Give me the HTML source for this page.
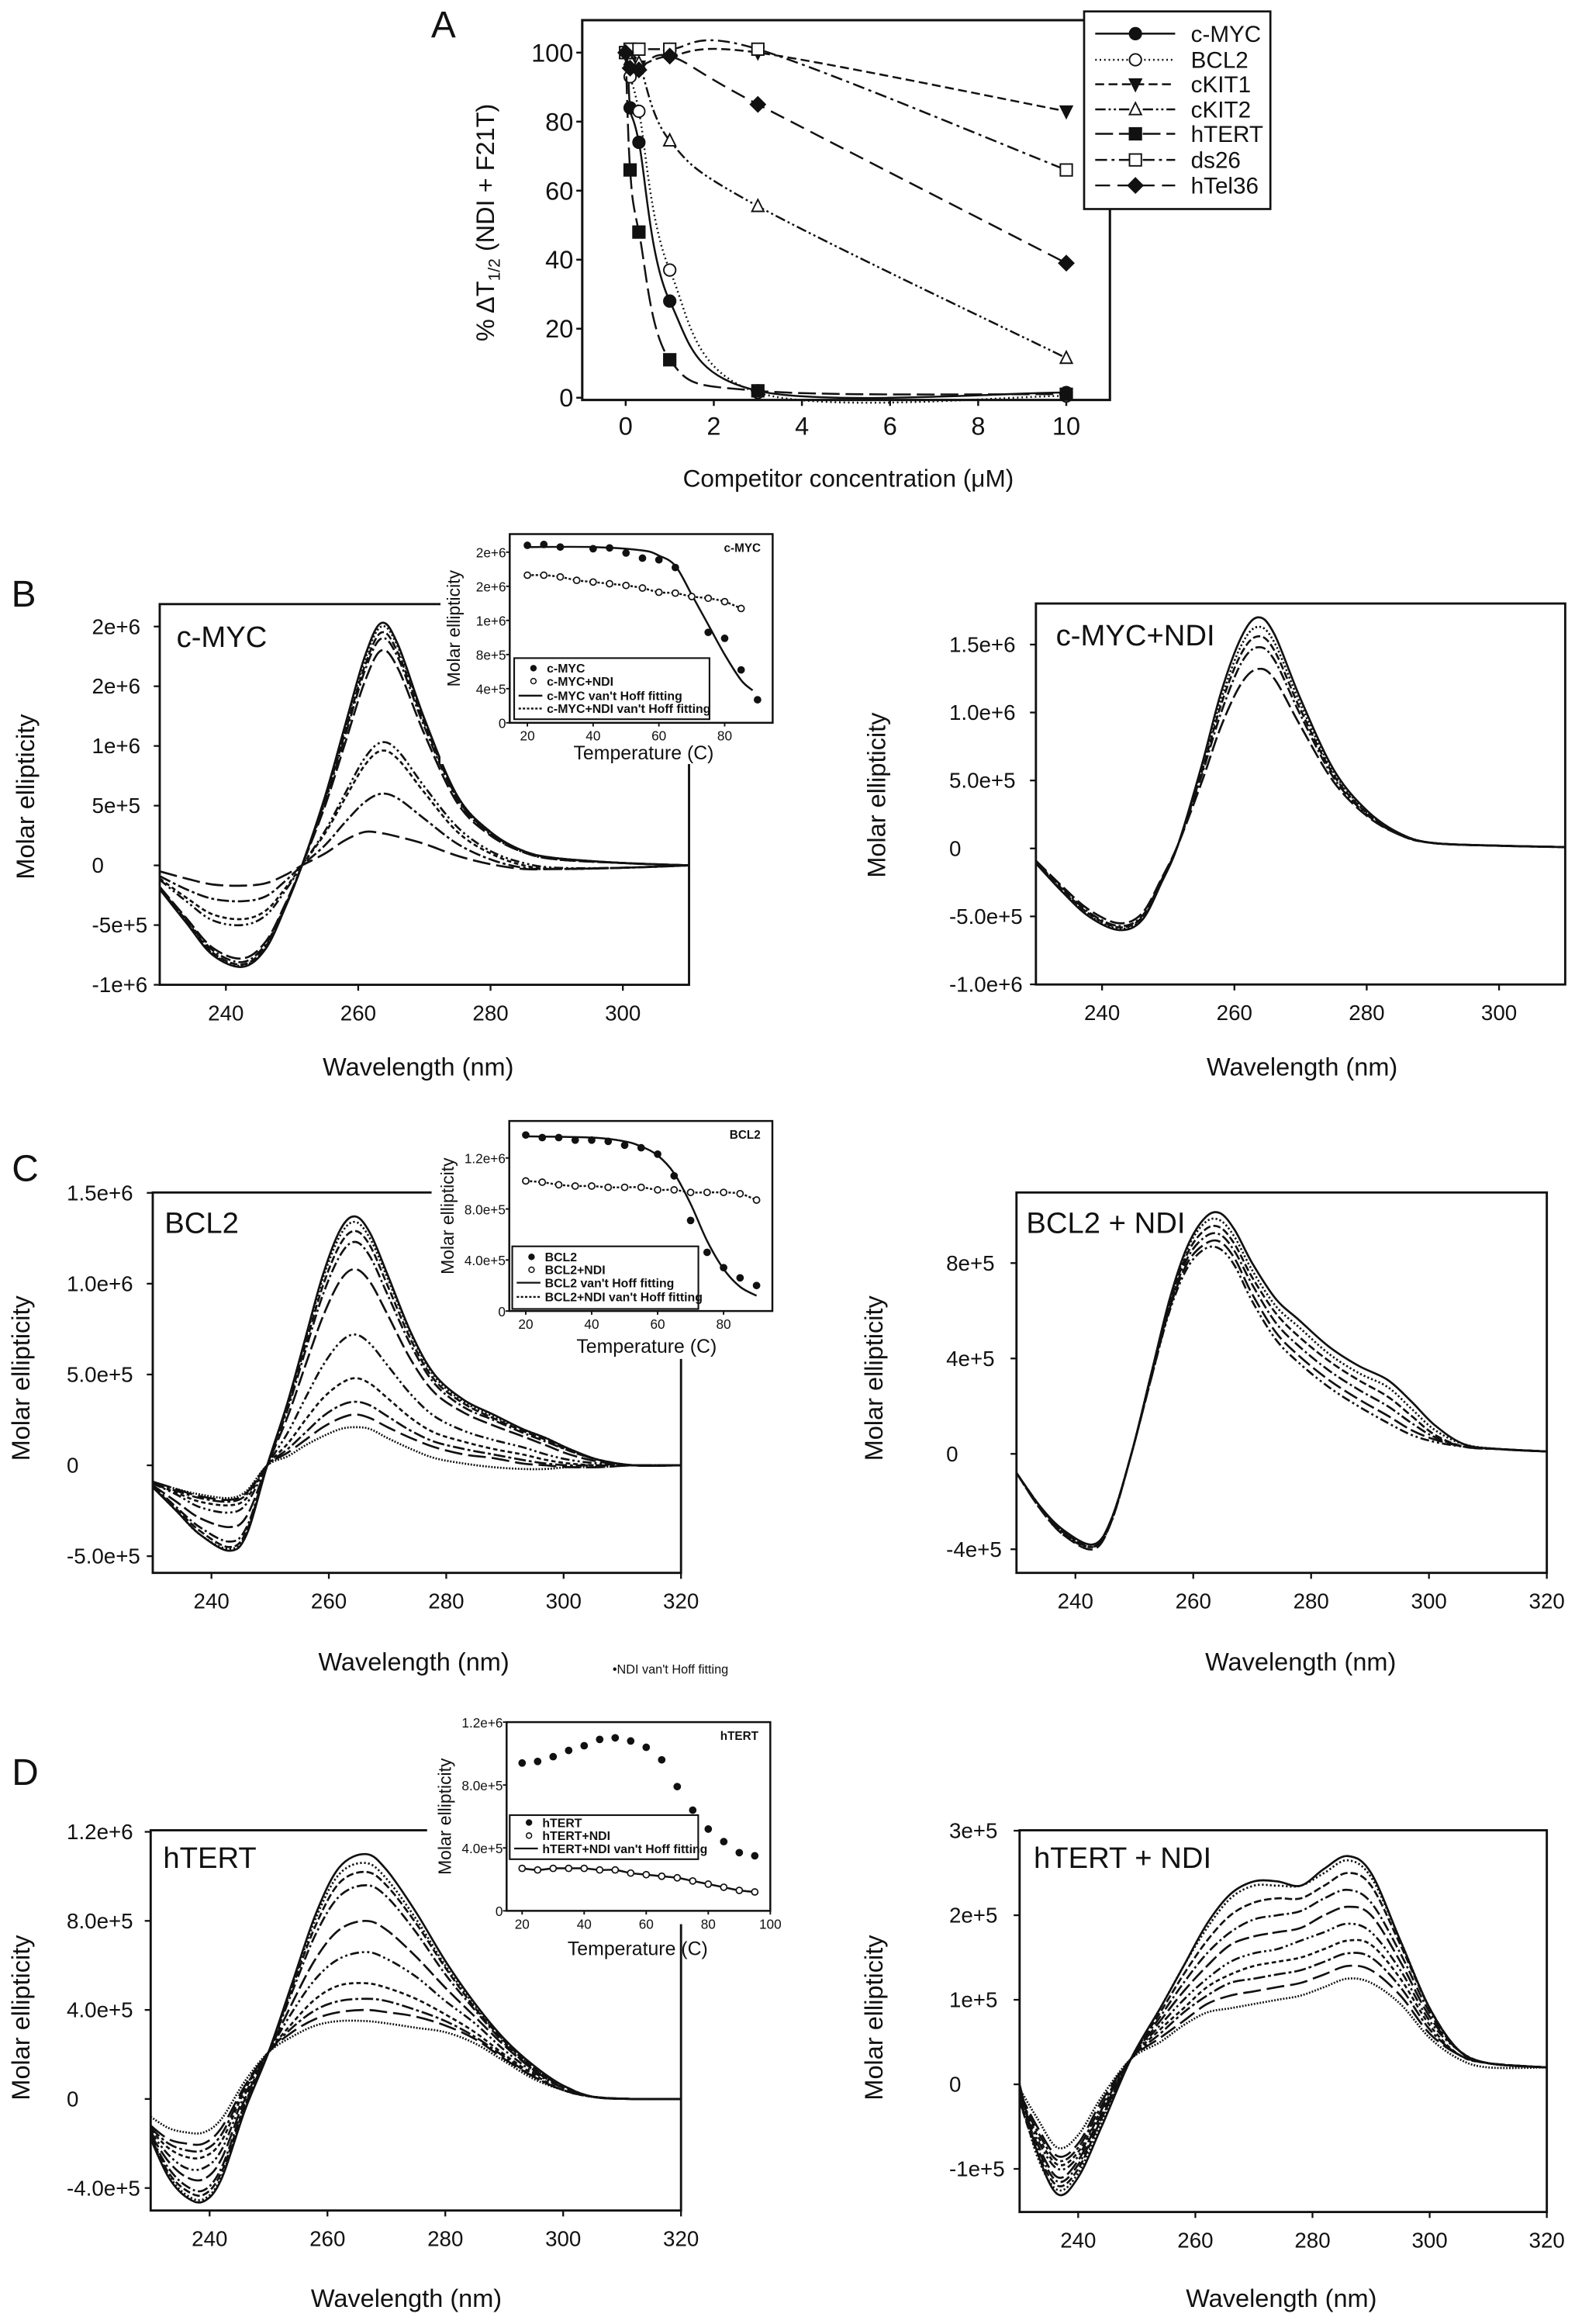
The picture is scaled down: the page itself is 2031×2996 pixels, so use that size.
<!DOCTYPE html>
<html><head><meta charset="utf-8"><title>CD melting figure</title>
<style>
html,body{margin:0;padding:0;background:#fff;}
svg{display:block;}
text{font-family:"Liberation Sans",Arial,sans-serif;fill:#111;}
</style></head>
<body>
<svg id="fig" xmlns="http://www.w3.org/2000/svg" width="2031" height="2996" viewBox="0 0 1062 1566.5" preserveAspectRatio="none">
<rect x="0" y="0" width="1062" height="1566.5" fill="#fff"/>
</svg>
<script>
// ===== Panel A data =====
const aSeriesNames = ["c-MYC","BCL2","cKIT1","cKIT2","hTERT","ds26","hTel36"];
const aX_cmyc = [0.05,0.1,0.3,1,3,10];   const aY_cmyc = [100,84,74,28,2,1.5];
const aX_bcl2 = [0,0.1,0.3,1,3,10];      const aY_bcl2 = [100,93,83,37,1.5,0.5];
const aX_ckit1 = [0,0.1,0.3,1,3,10];     const aY_ckit1 = [100,97,96,99,100,83];
const aX_ckit2 = [0,0.1,0.3,1,3,10];     const aY_ckit2 = [100,98,97,74.5,55.5,11.5];
const aX_htert = [0,0.1,0.3,1,3,10];     const aY_htert = [100,66,48,11,2,1];
const aX_ds26 = [0,0.1,0.3,1,3,10];      const aY_ds26 = [100,101,101,101,101,66];
const aX_htel = [0,0.1,0.3,1,3,10];      const aY_htel = [100,95.5,95,99,85,39];
const aXTicks = [0,2,4,6,8,10];
const aYTicks = [0,20,40,60,80,100];

// ===== CD spectra data (units: 1e5, D-right 1e4) =====
const wlB = [230,234,238,242.5,246,249,251.5,255,258,261,263.5,266,270,275,280,285,290,300,310];
const cdB1 = [
 [-2,-4.8,-7.5,-8.5,-7,-3.5,0,5.8,11.7,17.5,20.3,18.5,12.3,5.8,2.8,1.2,0.6,0.2,0],
 [-1.9,-4.7,-7.4,-8.4,-6.9,-3.4,0,5.6,11.4,17.2,20.0,18.3,12.2,5.8,2.8,1.2,0.6,0.2,0],
 [-1.9,-4.6,-7.3,-8.3,-6.8,-3.4,0,5.5,11.1,16.7,19.5,17.8,11.9,5.6,2.7,1.2,0.6,0.2,0],
 [-1.8,-4.5,-7.1,-8.1,-6.6,-3.3,0,5.3,10.8,16.3,19.0,17.4,11.6,5.5,2.6,1.1,0.5,0.2,0],
 [-1.8,-4.4,-6.9,-7.8,-6.4,-3.2,0,5.0,10.2,15.4,18.0,16.5,11.0,5.2,2.5,1.1,0.5,0.2,0],
 [-1.2,-3,-4.6,-5,-4.2,-2.1,0,2.9,6,9,10.3,9.6,6.6,3.2,1.2,0.2,-0.2,-0.2,0],
 [-1.1,-2.7,-4.1,-4.5,-3.8,-1.9,0,2.7,5.6,8.4,9.6,8.9,6.1,2.8,1,0,-0.3,-0.2,0],
 [-0.9,-2,-2.8,-3,-2.6,-1.3,0,1.7,3.6,5.3,6.0,5.6,3.9,1.8,0.5,-0.2,-0.3,-0.2,0],
 [-0.5,-1.1,-1.6,-1.7,-1.5,-0.8,0,1,2.1,2.8,2.7,2.4,1.8,0.8,0.1,-0.3,-0.3,-0.2,0]
];
const cdB2 = [
 [-1.1,-3.2,-5,-6,-5.3,-2.5,0.3,6,11.5,15.5,17,15.8,11,5.8,2.8,1.1,0.4,0.2,0.1],
 [-1.1,-3.1,-4.9,-5.9,-5.2,-2.4,0.3,5.8,11.0,14.9,16.3,15.2,10.6,5.6,2.7,1.1,0.4,0.2,0.1],
 [-1.0,-3.0,-4.8,-5.8,-5.1,-2.4,0.3,5.5,10.6,14.3,15.6,14.6,10.2,5.4,2.6,1.0,0.4,0.2,0.1],
 [-1.0,-2.9,-4.7,-5.7,-5.0,-2.3,0.3,5.3,10.0,13.6,14.8,13.9,9.8,5.2,2.5,1.0,0.4,0.2,0.1],
 [-0.9,-2.8,-4.5,-5.5,-4.8,-2.2,0.3,4.8,9.0,12.1,13.2,12.5,9.0,4.9,2.4,1.0,0.4,0.2,0.1]
];
const wlC = [230,234,238,243,246,249.5,253,256,259,262,264.5,267,270,274,278,283,288,293,297,301,306,312,320];
const cdC1 = [
 [-1.2,-2.5,-3.8,-4.7,-3.8,0,3.5,7,10.5,13,13.7,12.8,10.5,7.3,5,3.6,2.8,2,1.5,0.9,0.3,0,0],
 [-1.2,-2.5,-3.8,-4.6,-3.7,0,3.4,6.9,10.3,12.7,13.4,12.5,10.3,7.2,4.9,3.5,2.7,2,1.5,0.9,0.3,0,0],
 [-1.2,-2.4,-3.6,-4.5,-3.6,0,3.3,6.6,9.9,12.2,12.9,12.1,9.9,6.9,4.7,3.4,2.6,1.9,1.4,0.8,0.3,0,0],
 [-1.1,-2.3,-3.4,-4.2,-3.4,0,3.1,6.3,9.4,11.6,12.3,11.5,9.4,6.6,4.5,3.2,2.5,1.8,1.3,0.8,0.3,0,0],
 [-1.1,-2.0,-2.9,-3.4,-2.8,0,2.7,5.5,8.2,10.2,10.8,10.1,8.3,5.8,4.0,2.9,2.2,1.6,1.1,0.6,0.2,0,0],
 [-1,-1.6,-2.3,-2.6,-2.1,0,1.8,3.7,5.5,6.8,7.2,6.7,5.5,3.9,2.7,1.9,1.4,1,0.6,0.3,0.1,0,0],
 [-1,-1.5,-2,-2.2,-1.8,0,1.2,2.5,3.7,4.5,4.8,4.5,3.7,2.6,1.8,1.3,0.9,0.6,0.3,0.1,0,0,0],
 [-1,-1.4,-1.8,-2,-1.6,0,0.9,1.8,2.7,3.3,3.5,3.3,2.7,1.9,1.3,0.9,0.6,0.3,0.1,0,0,0,0],
 [-0.9,-1.3,-1.7,-1.9,-1.5,0,0.7,1.4,2.1,2.6,2.8,2.6,2.1,1.5,1,0.6,0.4,0.1,0,-0.1,-0.1,0,0],
 [-0.9,-1.3,-1.6,-1.8,-1.4,0,0.5,1.1,1.6,2,2.1,2,1.5,0.9,0.4,0.1,-0.1,-0.2,-0.2,-0.1,-0.1,0,0]
];
const cdC2 = [
 [-0.8,-2.2,-3.2,-3.8,-2.8,0,3.5,6.5,8.7,9.9,10.1,9.4,8,6.5,5.6,4.5,3.7,3.1,2.2,1.2,0.4,0.2,0.1],
 [-0.8,-2.2,-3.3,-3.9,-2.8,0,3.5,6.4,8.6,9.7,9.8,9.1,7.7,6.2,5.3,4.2,3.4,2.8,1.9,1.0,0.4,0.2,0.1],
 [-0.8,-2.2,-3.3,-3.8,-2.8,0,3.4,6.3,8.4,9.4,9.5,8.8,7.4,5.9,4.9,3.9,3.1,2.4,1.6,0.8,0.3,0.2,0.1],
 [-0.8,-2.2,-3.3,-3.9,-2.9,0,3.4,6.2,8.2,9.1,9.2,8.5,7.1,5.5,4.5,3.5,2.7,2.0,1.3,0.7,0.3,0.2,0.1],
 [-0.8,-2.3,-3.4,-4.0,-2.9,0,3.3,6.1,8.0,8.8,8.9,8.2,6.7,5.1,4.1,3.1,2.3,1.6,1.0,0.6,0.3,0.2,0.1],
 [-0.8,-2.3,-3.4,-3.9,-2.9,0,3.3,6.0,7.8,8.6,8.6,7.9,6.4,4.8,3.8,2.8,2.0,1.3,0.8,0.5,0.3,0.2,0.1]
];
const wlD = [230,233,236,239,242,246,250,254,258,262,266.5,270,275,280,285,290,295,300,305,312,320];
const cdD1 = [
 [-1.8,-3.5,-4.4,-4.6,-3.6,-0.5,2.1,5.2,8.3,10.4,11,10.3,8.4,6.2,4.3,2.7,1.5,0.6,0.1,0,0],
 [-1.8,-3.4,-4.3,-4.5,-3.5,-0.4,2.1,5.1,8.1,10.1,10.6,9.9,8.1,6.0,4.2,2.6,1.4,0.6,0.1,0,0],
 [-1.7,-3.3,-4.1,-4.3,-3.3,-0.3,2.1,5.0,7.8,9.7,10.2,9.6,7.9,5.9,4.1,2.6,1.4,0.6,0.1,0,0],
 [-1.7,-3.1,-3.9,-4.1,-3.1,-0.2,2.1,4.8,7.4,9.1,9.6,9.1,7.5,5.6,4.0,2.5,1.3,0.6,0.1,0,0],
 [-1.6,-2.8,-3.5,-3.6,-2.7,0,2.1,4.3,6.3,7.6,8.0,7.6,6.4,5.0,3.7,2.4,1.3,0.5,0.1,0,0],
 [-1.5,-2.5,-3.1,-3.1,-2.3,0.2,2.1,3.9,5.4,6.3,6.6,6.3,5.5,4.4,3.4,2.2,1.2,0.5,0.1,0,0],
 [-1.4,-2.2,-2.6,-2.6,-1.9,0.4,2.1,3.4,4.5,5.1,5.2,5.0,4.5,3.8,3.0,2.0,1.1,0.4,0.1,0,0],
 [-1.3,-2.0,-2.3,-2.3,-1.6,0.5,2.1,3.2,4.0,4.4,4.5,4.4,4.0,3.5,2.8,1.9,1.0,0.4,0.1,0,0],
 [-1.2,-1.8,-2.0,-2.0,-1.3,0.6,2.1,3.0,3.6,3.9,4.0,3.9,3.7,3.3,2.7,1.8,1.0,0.4,0.1,0,0],
 [-0.8,-1.3,-1.5,-1.5,-0.9,0.8,2.1,2.8,3.3,3.5,3.5,3.4,3.2,3.0,2.5,1.7,0.9,0.4,0.1,0,0]
];
const wlD2 = [230,233,236.5,240,244,249,254,258,262,266,270,274,278,282,286,290,295,300,305,310,320];
const cdD2 = [
 [0,-8,-13,-11,-5,3,9,14,19,22.5,24,24,23.5,25.5,27,25,17,9,4,2.5,2],
 [-1,-8.5,-12.5,-10.5,-4.5,3,9,14,18.5,22,23.5,23.5,23.5,25,26.5,24.5,17,9,4,2.5,2],
 [-2,-8,-12,-10,-4,3,8.5,13,17,20,21.5,22,22,23.5,25,23.5,16.5,9,4,2.5,2],
 [-2,-7.5,-11.5,-9.5,-4,3,8,12,15.5,18,19.5,20,20.5,22,23,21.5,15.5,8.5,4,2.5,2],
 [-2,-7,-11,-9,-3.5,3,7.5,11,14,16.5,17.5,18,18.5,20,21,20,14.5,8,4,2.5,2],
 [-2,-6.5,-10,-8.5,-3,3,7,10,12.5,14.5,15.5,16,17,18,19,18,13.5,7.5,4,2.5,2],
 [-1.5,-6,-9.5,-8,-3,3,6.5,9,11.5,13,14,14.5,15,16,17,16.5,12.5,7,3.5,2.5,2],
 [-1.5,-5.5,-9,-7.5,-2.5,3,6,8.5,10.5,12,12.5,13,13.5,14.5,15.5,15,11.5,6.5,3.5,2.5,2],
 [-1,-5,-8.5,-7,-2,3,5.5,7.5,9.5,10.5,11,11.5,12,13,14,13.5,10.5,6,3.5,2.5,2],
 [-0.5,-4,-7.5,-6,-1.5,3,5,7,8.5,9,9.5,10,10.5,11.5,12.5,12,9.5,5.5,3,2,2]
];

// ===== Inset melting data (units 1e5) =====
const tB = [20,25,30,40,45,50,55,60,65,75,80,85,90];
const mB_free = [20.8,20.9,20.6,20.4,20.5,19.9,19.3,19.1,18.2,10.6,9.9,6.2,2.7];
const tB_ndi = [20,25,30,35,40,45,50,55,60,65,70,75,80,85];
const mB_ndi = [17.3,17.3,17.1,16.7,16.5,16.3,16.1,15.8,15.3,15.2,14.8,14.6,14.2,13.4];
const tB_fit = [20,40,55,60,65,70,75,80,85,88.5];
const fB_fit = [20.6,20.6,20.2,19.6,18.4,15,11.5,8,5,3.8];
const tC = [20,25,30,35,40,45,50,55,60,65,70,75,80,85,90];
const mC_free = [13.8,13.6,13.6,13.4,13.4,13.3,13.0,12.8,12.3,10.6,7.1,4.6,3.4,2.6,2.0];
const mC_ndi = [10.2,10.1,9.9,9.8,9.8,9.7,9.7,9.7,9.5,9.5,9.3,9.3,9.3,9.2,8.7];
const tC_fit = [20,40,50,55,60,65,70,75,80,85,90];
const fC_fit = [13.7,13.6,13.3,12.9,12.2,10.8,8.4,5.5,3.3,1.9,1.2];
const tD = [20,25,30,35,40,45,50,55,60,65,70,75,80,85,90,95];
const mD_free = [9.4,9.5,9.8,10.2,10.5,10.9,11,10.8,10.4,9.6,7.9,6.4,5.2,4.4,3.7,3.5];
const mD_ndi = [2.7,2.6,2.7,2.7,2.7,2.6,2.6,2.4,2.3,2.2,2.1,1.9,1.7,1.5,1.3,1.2];

const NS = 'http://www.w3.org/2000/svg';
const svg = document.getElementById('fig');
function mk(tag, attrs, parent){ const e = document.createElementNS(NS, tag); for (const k in attrs) e.setAttribute(k, attrs[k]); (parent||svg).appendChild(e); return e; }
function txt(s, x, y, size, anchor, parent, extra){ const e = mk('text', Object.assign({x:x, y:y, 'font-size':size, 'text-anchor':anchor||'start'}, extra||{}), parent); e.textContent = s; return e; }
function smooth(pts){
  if (pts.length < 2) return '';
  let d = 'M' + pts[0][0].toFixed(2) + ',' + pts[0][1].toFixed(2);
  for (let i = 0; i < pts.length - 1; i++){
    const p0 = pts[Math.max(0,i-1)], p1 = pts[i], p2 = pts[i+1], p3 = pts[Math.min(pts.length-1,i+2)];
    const c1x = p1[0] + (p2[0]-p0[0])/6, c1y = p1[1] + (p2[1]-p0[1])/6;
    const c2x = p2[0] - (p3[0]-p1[0])/6, c2y = p2[1] - (p3[1]-p1[1])/6;
    d += ' C' + c1x.toFixed(2)+','+c1y.toFixed(2)+' '+c2x.toFixed(2)+','+c2y.toFixed(2)+' '+p2[0].toFixed(2)+','+p2[1].toFixed(2);
  }
  return d;
}
function axisFns(P){
  return {
    sx: v => P.x0 + (v - P.xmin) / (P.xmax - P.xmin) * (P.x1 - P.x0),
    sy: v => P.y1 - (v - P.ymin) / (P.ymax - P.ymin) * (P.y1 - P.y0)
  };
}

// panel letters
[['A',299,25],['B',16,409],['C',17,796],['D',17,1203]].forEach(l => {
  const t = txt(l[0], l[1], l[2], 25, 'middle');
  
  
});

// ===== Panel A =====
(function(){
  const P = {x0:392.6, x1:748.4, y0:13.6, y1:269.6, xmin:-0.986, xmax:10.99, ymin:-0.65, ymax:109.4};
  const {sx, sy} = axisFns(P);
  const g = mk('g', {});
  
  
  const fr = mk('rect', {x:P.x0, y:P.y0, width:P.x1-P.x0, height:P.y1-P.y0, fill:'none', stroke:'#111', 'stroke-width':1.6}, g);
  
  
  aYTicks.forEach(v => {
    mk('line', {x1:P.x0-4, x2:P.x0, y1:sy(v), y2:sy(v), stroke:'#111', 'stroke-width':1.3}, g);
    const t = txt(String(v), P.x0-6, sy(v)+6, 17, 'end', g);
    
    
  });
  aXTicks.forEach(v => {
    mk('line', {x1:sx(v), x2:sx(v), y1:P.y1, y2:P.y1+4, stroke:'#111', 'stroke-width':1.3}, g);
    const t = txt(String(v), sx(v), 293, 17, 'middle', g);
    
    
  });
  const xl = txt('Competitor concentration (μM)', 572, 328, 16.5, 'middle', g);
  
  
  const yl = mk('text', {x:0, y:0, 'font-size':17, 'text-anchor':'middle', transform:'translate(333,150) rotate(-90)'}, g);
  yl.innerHTML = '% ΔT<tspan font-size="11" dy="4">1/2</tspan><tspan dy="-4"> (NDI + F21T)</tspan>';
  
  

  const series = [
    {xs:aX_cmyc, ys:aY_cmyc, dash:'', m:'circle', fill:true},
    {xs:aX_bcl2, ys:aY_bcl2, dash:'1,2', m:'circle', fill:false},
    {xs:aX_ckit1, ys:aY_ckit1, dash:'6,3', m:'tridown', fill:true},
    {xs:aX_ckit2, ys:aY_ckit2, dash:'7,2,1.5,2,1.5,2', m:'triup', fill:false},
    {xs:aX_htert, ys:aY_htert, dash:'12,4', m:'square', fill:true},
    {xs:aX_ds26, ys:aY_ds26, dash:'8,3,2,3', m:'square', fill:false},
    {xs:aX_htel, ys:aY_htel, dash:'10,5', m:'diamond', fill:true}
  ];
  function marker(type, x, y, fill, parent, r){
    r = r || 4;
    let e;
    const st = {fill: fill ? '#111' : '#fff', stroke:'#111', 'stroke-width':1};
    if (type === 'circle') e = mk('circle', Object.assign({cx:x, cy:y, r:r}, st), parent);
    else if (type === 'square') e = mk('rect', Object.assign({x:x-r, y:y-r, width:2*r, height:2*r}, st), parent);
    else if (type === 'triup') e = mk('polygon', Object.assign({points:`${x},${y-r-0.5} ${x+r},${y+r-0.5} ${x-r},${y+r-0.5}`}, st), parent);
    else if (type === 'tridown') e = mk('polygon', Object.assign({points:`${x},${y+r+0.5} ${x+r},${y-r+0.5} ${x-r},${y-r+0.5}`}, st), parent);
    else e = mk('polygon', Object.assign({points:`${x},${y-r-1} ${x+r+1},${y} ${x},${y+r+1} ${x-r-1},${y}`}, st), parent);
    return e;
  }
  series.forEach((s, i) => {
    const pts = s.xs.map((x, k) => [sx(x), sy(s.ys[k])]);
    const p = mk('path', {d:smooth(pts), fill:'none', stroke:'#111', 'stroke-width':1.3, 'stroke-dasharray':s.dash}, g);
    
    
    pts.forEach(pt => {
      const m = marker(s.m, pt[0], pt[1], s.fill, g);
      
      
    });
  });
  const lg = mk('g', {});
  
  
  mk('rect', {x:731, y:7.7, width:125.6, height:133.2, fill:'#fff', stroke:'#111', 'stroke-width':1.4}, lg);
  const ly = [22.7,40.3,56.8,73.7,90.2,107.8,125];
  series.forEach((s, i) => {
    mk('line', {x1:738.5, x2:792.4, y1:ly[i], y2:ly[i], stroke:'#111', 'stroke-width':1.3, 'stroke-dasharray':s.dash}, lg);
    marker(s.m, 765.6, ly[i], s.fill, lg);
    const t = txt(aSeriesNames[i], 803, ly[i]+5.5, 15.5, 'start', lg);
    
    
  });
})();

// ===== CD panels =====
const dashes = ['', '1.2,1.5', '5,2', '7,2,1.5,2', '10,3', '6,2,1.5,2,1.5,2', '3,2', '8,2,2,2', '12,4', '1,1'];
function cdPanel(P, wl, curves, yTickVals, yTickLabels, xTickVals, title, labelX, name){
  const {sx, sy} = axisFns(P);
  const g = mk('g', {});
  
  
  const cp = mk('clipPath', {id:'clip-' + name}, g);
  mk('rect', {x:P.x0, y:P.y0, width:P.x1-P.x0, height:P.y1-P.y0}, cp);
  const cg = mk('g', {'clip-path':'url(#clip-' + name + ')'}, g);
  curves.forEach((c, i) => {
    const pts = wl.map((w, k) => [sx(w), sy(c[k])]);
    const p = mk('path', {d:smooth(pts), fill:'none', stroke:'#111', 'stroke-width':1.4, 'stroke-dasharray':dashes[i % dashes.length]}, cg);
    
    
  });
  const fr = mk('rect', {x:P.x0, y:P.y0, width:P.x1-P.x0, height:P.y1-P.y0, fill:'none', stroke:'#111', 'stroke-width':1.5}, g);
  
  
  yTickVals.forEach((v, i) => {
    mk('line', {x1:P.x0-4, x2:P.x0, y1:sy(v), y2:sy(v), stroke:'#111', 'stroke-width':1.2}, g);
    const t = txt(yTickLabels[i], labelX, sy(v)+5, 14.5, 'start', g);
    
    
  });
  xTickVals.forEach(v => {
    mk('line', {x1:sx(v), x2:sx(v), y1:P.y1, y2:P.y1+4, stroke:'#111', 'stroke-width':1.2}, g);
    const t = txt(String(v), sx(v), P.y1 + 24, 14.5, 'middle', g);
    
    
  });
  const tt = txt(title, P.tx, P.ty, 20, 'start', g);
  
  
  const xl = txt('Wavelength (nm)', P.xlx, P.xly, 17, 'middle', g);
  
  
  const yl = txt('Molar ellipticity', 0, 0, 17, 'middle', g, {transform:`translate(${P.ylx},${P.yly}) rotate(-90)`});
  
  
}

cdPanel({x0:107.7,x1:464.6,y0:407.2,y1:663.8,xmin:230,xmax:310,ymin:-10,ymax:21.88,tx:119,ty:436,xlx:282,xly:725,ylx:23,yly:537},
  wlB, cdB1, [20,15,10,5,0,-5,-10], ["2e+6","2e+6","1e+6","5e+5","0","-5e+5","-1e+6"], [240,260,280,300], 'c-MYC', 62, 'panel-b-cmyc');
cdPanel({x0:698.5,x1:1055.4,y0:406.8,y1:663.6,xmin:230,xmax:310,ymin:-10.01,ymax:18.02,tx:712,ty:435,xlx:878,xly:725,ylx:597,yly:536},
  wlB, cdB2, [15,10,5,0,-5,-10], ["1.5e+6","1.0e+6","5.0e+5","0","-5.0e+5","-1.0e+6"], [240,260,280,300], 'c-MYC+NDI', 640, 'panel-b-cmyc-ndi');
cdPanel({x0:103,x1:459.2,y0:803.8,y1:1060.2,xmin:230,xmax:320,ymin:-5.92,ymax:15.02,tx:111,ty:831,xlx:279,xly:1126,ylx:20,yly:929},
  wlC, cdC1, [15,10,5,0,-5], ["1.5e+6","1.0e+6","5.0e+5","0","-5.0e+5"], [240,260,280,300,320], 'BCL2', 45, 'panel-c-bcl2');
cdPanel({x0:685.4,x1:1043,y0:803.8,y1:1060.2,xmin:230,xmax:320,ymin:-4.99,ymax:10.96,tx:692,ty:831,xlx:877,xly:1126,ylx:595,yly:929},
  wlC, cdC2, [8,4,0,-4], ["8e+5","4e+5","0","-4e+5"], [240,260,280,300,320], 'BCL2 + NDI', 638, 'panel-c-bcl2-ndi');
cdPanel({x0:101.6,x1:459.2,y0:1233.7,y1:1490,xmin:230,xmax:320,ymin:-5.01,ymax:12.07,tx:110,ty:1259,xlx:274,xly:1555,ylx:20,yly:1360},
  wlD, cdD1, [12,8,4,0,-4], ["1.2e+6","8.0e+5","4.0e+5","0","-4.0e+5"], [240,260,280,300,320], 'hTERT', 45, 'panel-d-htert');
cdPanel({x0:687.5,x1:1043,y0:1233.7,y1:1491,xmin:230,xmax:320,ymin:-15.1,ymax:30.05,tx:697,ty:1259,xlx:864,xly:1555,ylx:595,yly:1360},
  wlD2, cdD2, [30,20,10,0,-10], ["3e+5","2e+5","1e+5","0","-1e+5"], [240,260,280,300,320], 'hTERT + NDI', 640, 'panel-d-htert-ndi');

// ===== Insets =====
function inset(P, bg, yTickVals, yTickLabels, xTickVals, title, sets, legend, name){
  const {sx, sy} = axisFns(P);
  const g = mk('g', {});
  
  
  mk('rect', {x:bg[0], y:bg[1], width:bg[2], height:bg[3], fill:'#fff'}, g);
  sets.forEach(s => {
    if (s.line){
      const pts = s.t.map((t, k) => [sx(t), sy(s.v[k])]);
      const p = mk('path', {d:smooth(pts), fill:'none', stroke:'#111', 'stroke-width':1.3, 'stroke-dasharray':s.dash||''}, g);
      
      
    } else {
      s.t.forEach((t, k) => {
        const c = mk('circle', {cx:sx(t), cy:sy(s.v[k]), r:2.1, fill:s.fill?'#111':'#fff', stroke:'#111', 'stroke-width':0.9}, g);
        
        
      });
    }
  });
  const fr = mk('rect', {x:P.x0, y:P.y0, width:P.x1-P.x0, height:P.y1-P.y0, fill:'none', stroke:'#111', 'stroke-width':1.3}, g);
  
  
  yTickVals.forEach((v, i) => {
    mk('line', {x1:P.x0-2.5, x2:P.x0, y1:sy(v), y2:sy(v), stroke:'#111', 'stroke-width':1}, g);
    const t = txt(yTickLabels[i], P.x0-2.5, sy(v)+3.5, 9, 'end', g);
    
    
  });
  xTickVals.forEach(v => {
    mk('line', {x1:sx(v), x2:sx(v), y1:P.y1, y2:P.y1+2.5, stroke:'#111', 'stroke-width':1}, g);
    const t = txt(String(v), sx(v), P.y1+12, 9, 'middle', g);
    
    
  });
  const tt = txt(title, P.x1-8, P.y0+12, 8, 'end', g, {'font-weight':'bold'});
  
  
  const xl = txt('Temperature (C)', P.tlx, P.tly, 13, 'middle', g);
  
  
  const yl = txt('Molar ellipticity', 0, 0, 12, 'middle', g, {transform:`translate(${P.ylx},${(P.y0+P.y1)/2}) rotate(-90)`});
  
  
  const L = mk('g', {}, g);
  
  
  mk('rect', {x:legend.x, y:legend.y, width:legend.w, height:legend.h, fill:'#fff', stroke:'#111', 'stroke-width':1.1}, L);
  legend.items.forEach((it, i) => {
    const y = legend.ys[i];
    if (it.type === 'line') mk('line', {x1:legend.x+3, x2:legend.x+19, y1:y, y2:y, stroke:'#111', 'stroke-width':1.2, 'stroke-dasharray':it.dash||''}, L);
    else mk('circle', {cx:legend.x+13, cy:y, r:1.8, fill:it.fill?'#111':'#fff', stroke:'#111', 'stroke-width':0.8}, L);
    const t = txt(it.label, legend.x+22, y+3, 8.3, 'start', L, {'font-weight':'bold'});
    
    
  });
}

inset({x0:343.7,x1:521,y0:360,y1:487.2,xmin:14.63,xmax:94.6,ymin:0,ymax:22.12,tlx:434,tly:512,ylx:310},
  [297,355,232,160], [0,4,8,12,16,20], ["0","4e+5","8e+5","1e+6","2e+6","2e+6"], [20,40,60,80], 'c-MYC',
  [{t:tB_fit, v:fB_fit, line:true}, {t:tB, v:mB_free, fill:true}, {t:tB_ndi, v:mB_ndi, line:true, dash:'1.6,1.2'}, {t:tB_ndi, v:mB_ndi, fill:false}],
  {x:346.7, y:443.6, w:131.7, h:41.2, ys:[450.4,459.1,468.9,477.6], items:[
    {type:'dot', fill:true, label:'c-MYC'}, {type:'dot', fill:false, label:'c-MYC+NDI'},
    {type:'line', label:"c-MYC van't Hoff fitting"}, {type:'line', dash:'1.6,1.2', label:"c-MYC+NDI van't Hoff fitting"}]},
  'inset-b-melting');

inset({x0:343.4,x1:520.8,y0:755.6,y1:883.7,xmin:15,xmax:94.8,ymin:0,ymax:14.9,tlx:436,tly:912,ylx:306},
  [291,751,234,165], [0,4,8,12], ["0","4.0e+5","8.0e+5","1.2e+6"], [20,40,60,80], 'BCL2',
  [{t:tC_fit, v:fC_fit, line:true}, {t:tC, v:mC_free, fill:true}, {t:tC, v:mC_ndi, line:true, dash:'1.6,1.2'}, {t:tC, v:mC_ndi, fill:false}],
  {x:345.4, y:840.1, w:125.5, h:42.2, ys:[847.2,855.9,864.6,874.2], items:[
    {type:'dot', fill:true, label:'BCL2'}, {type:'dot', fill:false, label:'BCL2+NDI'},
    {type:'line', label:"BCL2 van't Hoff fitting"}, {type:'line', dash:'1.6,1.2', label:"BCL2+NDI van't Hoff fitting"}]},
  'inset-d-melting-c');

inset({x0:341.6,x1:519.4,y0:1160.8,y1:1288,xmin:15,xmax:100,ymin:0,ymax:12,tlx:430,tly:1318,ylx:304},
  [288,1152,236,145], [0,4,8,12], ["0","4.0e+5","8.0e+5","1.2e+6"], [20,40,60,80,100], 'hTERT',
  [{t:tD, v:mD_free, fill:true}, {t:tD, v:mD_ndi, line:true}, {t:tD, v:mD_ndi, fill:false}],
  {x:343.7, y:1223.5, w:127.1, h:29.7, ys:[1228.5,1237.3,1246], items:[
    {type:'dot', fill:true, label:'hTERT'}, {type:'dot', fill:false, label:'hTERT+NDI'},
    {type:'line', label:"hTERT+NDI van't Hoff fitting"}]},
  'inset-d-melting');

const stray = txt("•NDI van't Hoff fitting", 413, 1128, 8.5, 'start');


</script>
</body></html>
